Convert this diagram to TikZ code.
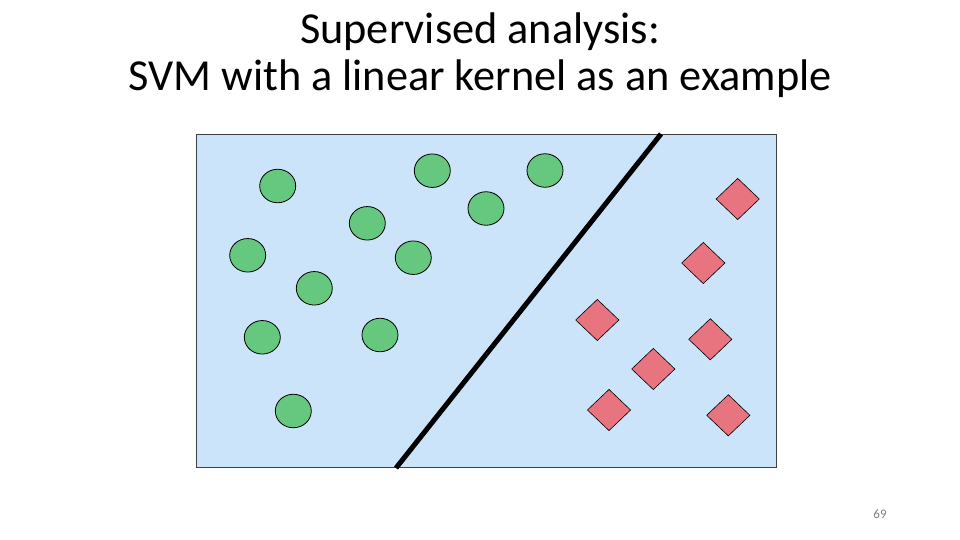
\documentclass[tikz,border=0pt]{standalone}
\usepackage{fontspec}
\setmainfont{Carlito}
\usepackage{tikz}
\usetikzlibrary{shapes.geometric}
\definecolor{planeblue}{HTML}{CCE4FA}
\definecolor{posgreen}{HTML}{66C87E}
\definecolor{negred}{HTML}{E8747F}

\begin{document}
\begin{tikzpicture}[x=1pt,y=-1pt]
		\tikzstyle{posdot}=[ellipse, draw, fill=posgreen, line width=0.8pt, inner sep=0pt, minimum width=36pt, minimum height=33.5pt]
		\tikzstyle{negdot}=[diamond, draw, fill=negred, line width=0.6pt, inner sep=0pt, minimum width=43.4pt, minimum height=41.4pt]
		\tikzstyle{titletext}=[anchor=base, font=\fontsize{44.3}{48}\selectfont]
		\useasboundingbox (0,0) rectangle (960,540);
		\node (Title1)[titletext] at (480,44) {Supervised analysis:};
		\node (Title2)[titletext] at (480,91) {SVM with a linear kernel as an example};
		\draw[fill=planeblue, draw=black!75, line width=0.6pt] (196.5,134.5) rectangle (776.5,467.5);
		% green class
		\node (p1)[posdot] at (277.7,186) {};
		\node (p2)[posdot] at (432.3,170.7) {};
		\node (p3)[posdot] at (545,170.5) {};
		\node (p4)[posdot] at (367.3,223.3) {};
		\node (p5)[posdot] at (486,208.5) {};
		\node (p6)[posdot] at (247.7,255.3) {};
		\node (p7)[posdot] at (413.3,257.7) {};
		\node (p8)[posdot] at (314.3,288.3) {};
		\node (p9)[posdot] at (262.3,337.3) {};
		\node (p10)[posdot] at (380,335) {};
		\node (p11)[posdot] at (293.3,411) {};
		% red class
		\node (n1)[negdot] at (737.7,199) {};
		\node (n2)[negdot] at (703.3,263) {};
		\node (n3)[negdot] at (597.3,320) {};
		\node (n4)[negdot] at (710.3,339.3) {};
		\node (n5)[negdot] at (653.3,369) {};
		\node (n6)[negdot] at (609,410) {};
		\node (n7)[negdot] at (728.3,415.3) {};
		% separating line
		\coordinate (Top) at (661,134);
		\coordinate (Bottom) at (396,468);
		\draw[line width=5pt] (Top) -- (Bottom);
		\node (Page)[text=black!50, font=\fontsize{13}{15}\selectfont] at (880,514) {69};
\end{tikzpicture}
\end{document}
